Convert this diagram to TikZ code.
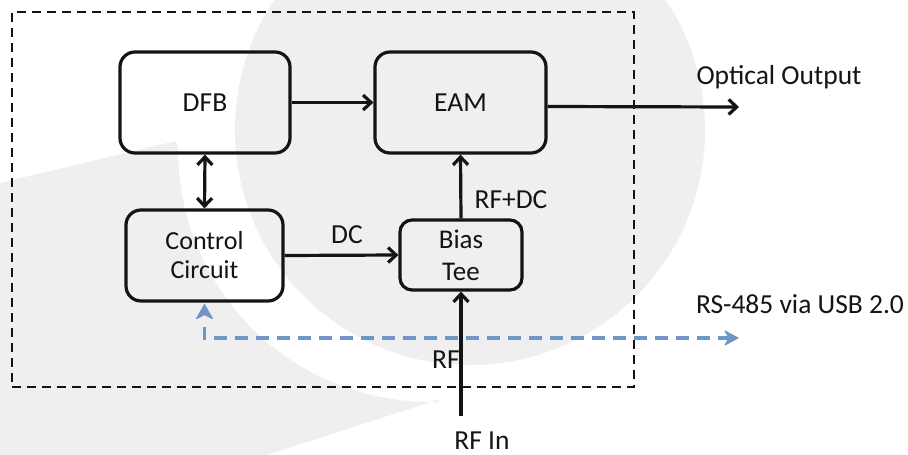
\documentclass[tikz,border=0pt]{standalone}
\usepackage{fontspec}
\setmainfont{Carlito}
\usetikzlibrary{arrows.meta,calc}
\definecolor{wm}{RGB}{239,239,239}
\definecolor{usbblue}{RGB}{112,150,198}
\definecolor{ink}{RGB}{20,20,20}
\begin{document}
\begin{tikzpicture}[x=1pt,y=-1pt,
  blk/.style={draw=ink, line width=3.2pt, rounded corners=15pt, inner sep=0pt, align=center, font=\fontsize{27.5}{31}\selectfont, text=ink},
  lbl/.style={inner sep=0pt, font=\fontsize{27.5}{31}\selectfont, text=ink},
  arr/.style={draw=ink, line width=3.2pt, -{Straight Barb[length=8pt,width=15pt]}},
  frame/.style={draw=ink, line width=2.4pt, dash pattern=on 9pt off 6pt, inner sep=0pt},
  usb/.style={draw=usbblue, line width=3.4pt, dash pattern=on 13pt off 8pt},
  usbtip/.style={draw=usbblue, fill=usbblue, line width=1pt, line join=round}
  ]
\useasboundingbox (0,0) rectangle (908,455);
\fill[white] (0,0) rectangle (908,455);
% watermark
\fill[wm] (470,130) circle[radius=235pt];
\fill[wm] (0,455) -- (267,455) -- (440,399)
  -- plot[domain=88:180, samples=40] ({430+252*cos(\x)},{150+252*sin(\x)})
  -- (176,141) -- (0,183) -- cycle;
% frame
\node[frame, minimum width=622pt, minimum height=375pt] (frame) at (323,199.5) {};
% blocks
\node[blk, minimum width=170pt, minimum height=101pt] (dfb) at (205,102.5) {DFB};
\node[blk, minimum width=171pt, minimum height=101pt] (eam) at (460.5,102.5) {EAM};
\node[blk, minimum width=157pt, minimum height=91pt, font=\fontsize{26}{29}\selectfont] (ctrl) at (204.5,255.5) {Control\\Circuit};
\node[blk, minimum width=122pt, minimum height=70pt, rounded corners=12pt, font=\fontsize{27}{32}\selectfont] (bias) at (461,255) {Bias\\Tee};
% labels
\node[lbl] (optlbl) at (779,77) {Optical Output};
\node[lbl] (usblbl) at (800,304) {RS-485 via USB 2.0};
\node[lbl] (dclbl) at (347,235) {DC};
\node[lbl] (rfdclbl) at (511,200) {RF+DC};
\node[lbl] (rflbl) at (446,360) {RF};
\node[lbl] (rfinlbl) at (482,441) {RF In};
\coordinate (optend) at (739,107);
\coordinate (rfstart) at (461,416);
\coordinate (usbend) at (738,338);
% connectors
\draw[arr] (dfb.east) -- (eam.west);
\draw[arr] ([yshift=-4pt]eam.east) -- (optend);
\draw[arr, {Straight Barb[length=8pt,width=15pt]}-{Straight Barb[length=8pt,width=15pt]}] (dfb.south) -- (ctrl.north);
\draw[arr] (ctrl.east) -- (bias.west);
\draw[arr] (bias.north) -- (eam.south);
\draw[arr] (rfstart) -- (bias.south);
\draw[usb, shorten <=24pt, shorten >=10pt] (ctrl.south) |- (usbend);
% arrow heads of the USB connector
\filldraw[usbtip] ($(ctrl.south)+(0,2)$) -- ++(8,14) -- ++(-8,-4) -- ++(-8,4) -- cycle;
\filldraw[usbtip] (usbend) -- ++(-13,-7) -- ++(4,7) -- ++(-4,7) -- cycle;
\end{tikzpicture}
\end{document}
